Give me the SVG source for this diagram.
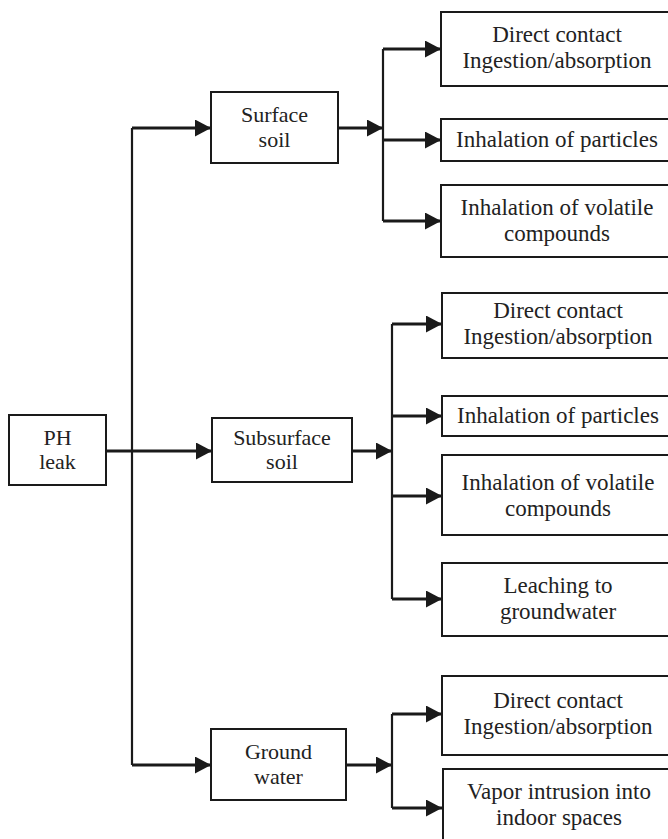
<svg xmlns="http://www.w3.org/2000/svg" width="668" height="839" viewBox="0 0 668 839">
  <defs>
    <style>
      .box { fill: #ffffff; stroke: #1a1a1a; stroke-width: 2; }
      .lbl { font-family: "Liberation Serif", "Times New Roman", serif; font-size: 22px; fill: #222222; text-anchor: middle; }
      .out { font-size: 23px; }
      .wire { fill: none; stroke: #1a1a1a; stroke-width: 2.2; }
      .arr { fill: none; stroke: #1a1a1a; stroke-width: 3; marker-end: url(#head); }
    </style>
    <marker id="head" viewBox="0 0 16 17" refX="16" refY="8.5" markerWidth="16" markerHeight="17" markerUnits="userSpaceOnUse" orient="auto">
      <path d="M0,0 L16,8.5 L0,17 z" fill="#1a1a1a"/>
    </marker>
  </defs>
  <rect width="668" height="839" fill="#ffffff"/>

  <!-- connectors -->
  <g id="connectors">
    <!-- main trunk from the leak -->
    <path class="wire" d="M132,128 V765"/>
    <path class="arr" d="M132,128 H211"/>
    <path class="arr" d="M106,451 H212"/>
    <path class="arr" d="M132,765 H211"/>
    <!-- surface soil branch -->
    <path class="arr" d="M338,128 H383"/>
    <path class="wire" d="M383,49 V221"/>
    <path class="arr" d="M383,49 H441"/>
    <path class="arr" d="M383,140 H441"/>
    <path class="arr" d="M383,221 H441"/>
    <!-- subsurface soil branch -->
    <path class="arr" d="M352,451 H392"/>
    <path class="wire" d="M392,324 V599"/>
    <path class="arr" d="M392,324 H442"/>
    <path class="arr" d="M392,416 H442"/>
    <path class="arr" d="M392,496 H442"/>
    <path class="arr" d="M392,599 H442"/>
    <!-- groundwater branch -->
    <path class="arr" d="M346,765 H392"/>
    <path class="wire" d="M392,714 V808"/>
    <path class="arr" d="M392,714 H442"/>
    <path class="arr" d="M392,808 H442"/>
  </g>

  <!-- source -->
  <g id="ph-leak">
    <rect class="box" x="9" y="415" width="97" height="70"/>
    <text class="lbl" x="57.5" y="445">PH</text>
    <text class="lbl" x="57.5" y="469">leak</text>
  </g>

  <!-- media -->
  <g id="surface-soil">
    <rect class="box" x="211" y="92" width="127" height="71"/>
    <text class="lbl" x="274.5" y="122">Surface</text>
    <text class="lbl" x="274.5" y="147">soil</text>
  </g>
  <g id="subsurface-soil">
    <rect class="box" x="212" y="418" width="140" height="64"/>
    <text class="lbl" x="282" y="445">Subsurface</text>
    <text class="lbl" x="282" y="469">soil</text>
  </g>
  <g id="ground-water">
    <rect class="box" x="211" y="729" width="135" height="71"/>
    <text class="lbl" x="278.5" y="759">Ground</text>
    <text class="lbl" x="278.5" y="784">water</text>
  </g>

  <!-- surface soil pathways -->
  <g id="ss-direct">
    <rect class="box" x="441" y="12" width="232" height="74"/>
    <text class="lbl out" x="557" y="42">Direct contact</text>
    <text class="lbl out" x="557" y="68">Ingestion/absorption</text>
  </g>
  <g id="ss-particles">
    <rect class="box" x="441" y="119" width="232" height="42"/>
    <text class="lbl out" x="557" y="147">Inhalation of particles</text>
  </g>
  <g id="ss-volatile">
    <rect class="box" x="441" y="185" width="232" height="72"/>
    <text class="lbl out" x="557" y="215">Inhalation of volatile</text>
    <text class="lbl out" x="557" y="241">compounds</text>
  </g>

  <!-- subsurface soil pathways -->
  <g id="sub-direct">
    <rect class="box" x="442" y="293" width="232" height="65"/>
    <text class="lbl out" x="558" y="318">Direct contact</text>
    <text class="lbl out" x="558" y="344">Ingestion/absorption</text>
  </g>
  <g id="sub-particles">
    <rect class="box" x="442" y="396" width="232" height="40"/>
    <text class="lbl out" x="558" y="423">Inhalation of particles</text>
  </g>
  <g id="sub-volatile">
    <rect class="box" x="442" y="455" width="232" height="80"/>
    <text class="lbl out" x="558" y="490">Inhalation of volatile</text>
    <text class="lbl out" x="558" y="516">compounds</text>
  </g>
  <g id="sub-leaching">
    <rect class="box" x="442" y="563" width="232" height="73"/>
    <text class="lbl out" x="558" y="593">Leaching to</text>
    <text class="lbl out" x="558" y="619">groundwater</text>
  </g>

  <!-- groundwater pathways -->
  <g id="gw-direct">
    <rect class="box" x="442" y="676" width="232" height="79"/>
    <text class="lbl out" x="558" y="708">Direct contact</text>
    <text class="lbl out" x="558" y="734">Ingestion/absorption</text>
  </g>
  <g id="gw-vapor">
    <rect class="box" x="443" y="769" width="232" height="80"/>
    <text class="lbl out" x="559" y="799">Vapor intrusion into</text>
    <text class="lbl out" x="559" y="825">indoor spaces</text>
  </g>
</svg>
